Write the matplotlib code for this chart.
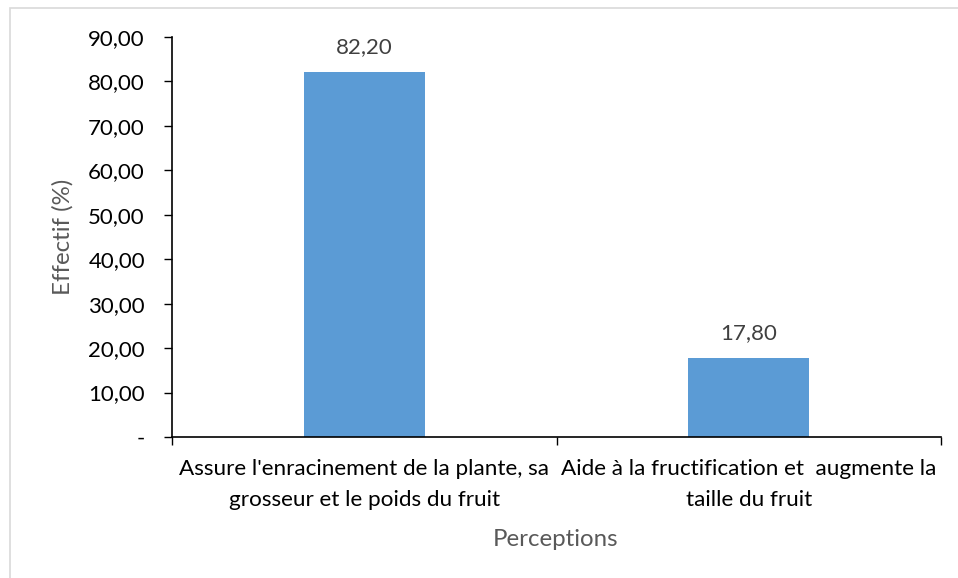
import matplotlib.pyplot as plt
import matplotlib.patches as patches

# data
categories = ["Assure l'enracinement de la plante, sa\ngrosseur et le poids du fruit",
              "Aide à la fructification et  augmente la\ntaille du fruit"]
values = [82.20, 17.80]
y_ticks = [0, 10, 20, 30, 40, 50, 60, 70, 80, 90]

plt.rcParams['font.family'] = ['Lato', 'DejaVu Sans']

def fr_fmt(v):
    # Excel accounting style: zero shown as a dash, comma decimal
    if v == 0:
        return "-"
    return f"{v:.2f}".replace('.', ',')

fig = plt.figure(figsize=(9.58, 5.78), dpi=100)

# light chart-area border (only top and left visible in the crop)
fig.patches.append(patches.Rectangle((10 / 958, -0.1), 1.1, 1 - 8 / 578 + 0.1,
                                     transform=fig.transFigure, fill=False,
                                     edgecolor='#D9D9D9', linewidth=1.2))

ax = fig.add_axes([172 / 958, 1 - 437 / 578, (941 - 172) / 958, (437 - 37) / 578])

x = list(range(len(categories)))
ax.bar(x, values, width=0.315, color='#5B9BD5', zorder=2)

for xi, v in zip(x, values):
    ax.text(xi, v + 5.6, fr_fmt(v), ha='center', va='center', fontsize=16, color='#404040')

ax.set_xlim(-0.5, len(categories) - 0.5)
ax.set_ylim(0, 90)
ax.set_yticks(y_ticks)
ax.set_yticklabels([fr_fmt(v) for v in y_ticks], fontsize=16, color='black')

# category ticks at the boundaries, labels in the middle
ax.set_xticks([-0.5, 0.5, 1.5])
ax.set_xticklabels([])
ax.tick_params(axis='x', length=5.5, width=1, direction='out')
ax.tick_params(axis='y', length=5.5, width=1, direction='out', pad=14)
for xi, lab in zip(x, categories):
    ax.text(xi, -5.0, lab, ha='center', va='top', fontsize=16.2, color='black',
            linespacing=1.65)

for side in ['top', 'right']:
    ax.spines[side].set_visible(False)
ax.spines['left'].set_linewidth(1.2)
ax.spines['bottom'].set_linewidth(1.2)

fig.text(63 / 958, 1 - 237 / 578, "Effectif (%)", rotation=90, ha='center', va='center',
         fontsize=17.3, color='#595959')
fig.text(556 / 958, 1 - 539 / 578, "Perceptions", ha='center', va='center',
         fontsize=17.3, color='#595959')

fig.savefig("out.png", dpi=100)
